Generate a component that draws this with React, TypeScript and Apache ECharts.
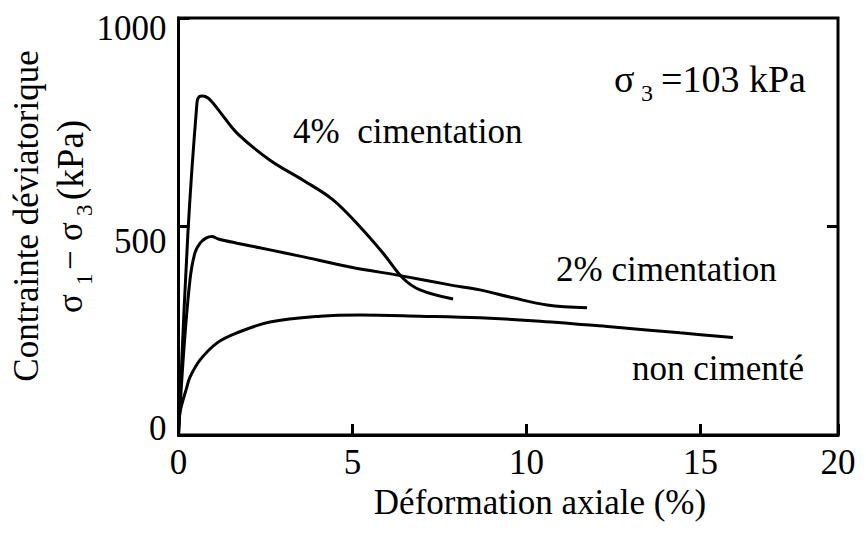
import React, { useEffect, useRef } from "react";
import * as echarts from "echarts";

// Strain (%) / deviator stress (kPa)
const strain4 = [0, 0.27, 0.53, 0.59, 0.7, 0.85, 0.99, 1.19, 1.68, 2.63, 3.58, 4.44, 5.22, 5.88, 6.45, 6.94, 7.89];
const stress4 = [0, 484, 796, 811, 813, 808, 796, 775, 724, 659, 611, 564, 499, 436, 376, 348, 326];

const strain2 = [0, 0.15, 0.33, 0.47, 0.62, 0.79, 0.96, 1.14, 1.68, 2.63, 3.49, 4.93, 6.45, 7.8, 8.66, 9.61, 10.59, 11.74];
const stress2 = [0, 200, 372, 436, 460, 472, 476, 470, 460, 444, 429, 403, 381, 360, 348, 329, 312, 305];

const strain0 = [0, 0.04, 0.24, 0.33, 0.62, 1.11, 1.68, 2.63, 4.07, 5.22, 6.94, 8.66, 10.39, 12.49, 14.41, 15.93];
const stress0 = [0, 53, 115, 139, 180, 221, 245, 271, 285, 288, 285, 281, 273, 259, 245, 234];

const xTickStep = 5;
const xMaxDrawn = 18.95; // right frame of the (slightly distorted) original, labelled 20
const xMaxLabel = "20";
const yMin = 0;
const yMax = 1000;
const yTickStep = 500;
const rightTickValues = [500];

const FONT = "'Liberation Serif', 'Times New Roman', serif";
const FS = 35;
const SUB = 23;
const TICK_LEN = 11;

function pairs(xs: number[], ys: number[]) {
  return xs.map((x, i) => [x, ys[i]]);
}

export default function App() {
  const ref = useRef<HTMLDivElement>(null);
  useEffect(() => {
    if (!ref.current) return;
    const chart = echarts.init(ref.current, null, { renderer: "svg" });
    const lineStyle = { color: "#000", width: 3 };
    const txt = (text: string, x: number, y: number, extra: any = {}) => ({
      type: "text",
      x,
      y,
      style: {
        text,
        fontFamily: FONT,
        fontSize: FS,
        fill: "#000",
        align: "left",
        verticalAlign: "middle",
        ...extra,
      },
    });
    const lblStyle = () => ({ fontFamily: FONT, fontSize: FS, color: "#000" });
    chart.setOption({
      animation: false,
      backgroundColor: "#fff",
      textStyle: { fontFamily: FONT, color: "#000" },
      grid: {
        left: 178.5,
        right: 28,
        top: 18,
        bottom: 98,
        show: true,
        borderColor: "#000",
        borderWidth: 3,
        backgroundColor: "transparent",
      },
      xAxis: {
        type: "value",
        min: 0,
        max: xMaxDrawn,
        interval: xTickStep,
        axisLine: { show: true, lineStyle: { color: "#000", width: 3 } },
        axisTick: { show: true, inside: true, length: TICK_LEN, lineStyle: { color: "#000", width: 3 } },
        axisLabel: {
          show: true,
          showMaxLabel: true,
          showMinLabel: true,
          margin: 10,
          ...lblStyle(),
          formatter: (v: number) => (v > xMaxDrawn - 0.5 ? xMaxLabel : String(v)),
        },
        splitLine: { show: false },
      },
      yAxis: {
        type: "value",
        min: yMin,
        max: yMax,
        interval: yTickStep,
        axisLine: { show: true, lineStyle: { color: "#000", width: 3 } },
        axisTick: { show: true, inside: true, length: TICK_LEN, lineStyle: { color: "#000", width: 3 } },
        axisLabel: {
          show: true,
          margin: 12,
          ...lblStyle(),
          formatter: (v: number) =>
            v === yMin ? `{lo|${v}}` : v === yMax ? `{hi|${v}}` : `{mid|${v}}`,
          rich: {
            lo: { ...lblStyle(), padding: [0, 0, 14, 0] },
            mid: { ...lblStyle(), padding: [30, 0, 0, 0] },
            hi: { ...lblStyle(), padding: [20, 0, 0, 0] },
          },
        },
        splitLine: { show: false },
      },
      series: [
        { name: "4%", type: "line", data: pairs(strain4, stress4), smooth: 0.35, showSymbol: false, lineStyle },
        { name: "2%", type: "line", data: pairs(strain2, stress2), smooth: 0.35, showSymbol: false, lineStyle },
        { name: "non", type: "line", data: pairs(strain0, stress0), smooth: 0.35, showSymbol: false, lineStyle },
      ],
    });

    // ticks on the right frame, placed through the chart's own scales
    const rightTicks = rightTickValues.map((v) => {
      const p = chart.convertToPixel({ xAxisIndex: 0, yAxisIndex: 0 }, [xMaxDrawn, v]) as number[];
      return {
        type: "line",
        shape: { x1: p[0] - TICK_LEN, y1: p[1], x2: p[0], y2: p[1] },
        style: { stroke: "#000", lineWidth: 3 },
      };
    });

    chart.setOption({
      graphic: [
        txt("4%  cimentation", 293, 131),
        txt("2% cimentation", 556, 269),
        txt("non cimenté", 632, 368),
        txt("σ", 614, 79, { fontSize: 38 }),
        txt("3", 641, 93, { fontSize: 24 }),
        txt("=103 kPa", 661, 79, { fontSize: 38 }),
        txt("Déformation axiale (%)", 540, 502, { align: "center" }),
        { ...txt("Contrainte déviatorique", 26, 216, { align: "center" }), rotation: Math.PI / 2 },
        {
          type: "group",
          x: 70,
          y: 313,
          rotation: Math.PI / 2,
          children: [
            txt("σ", 0, 0),
            txt("1", 28, 14, { fontSize: SUB }),
            txt("−", 43, 0),
            txt("σ", 72, 0),
            txt("3", 97, 14, { fontSize: SUB }),
            txt("(kPa)", 113, 0, { fontSize: 37 }),
          ],
        },
        ...rightTicks,
      ],
    });
    return () => chart.dispose();
  }, []);
  return (
    <div
      ref={ref}
      style={{ position: "fixed", left: 0, top: 0, width: 866, height: 533, background: "#fff" }}
    />
  );
}
